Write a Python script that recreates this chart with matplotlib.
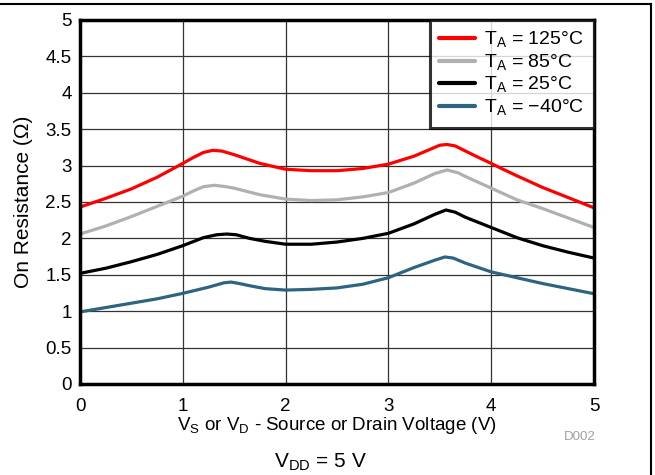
import matplotlib.pyplot as plt
from matplotlib.lines import Line2D

plt.rcParams['font.family'] = ['Liberation Sans', 'DejaVu Sans']

# voltage points (V) and on-resistance (ohm)
v_red = [0, 0.25, 0.5, 0.75, 1.0, 1.1, 1.2, 1.29, 1.38, 1.5, 1.75, 2.0, 2.25, 2.5, 2.75, 3.0, 3.25, 3.4, 3.5, 3.57, 3.65, 3.75, 3.85, 4.0, 4.1, 4.25, 4.5, 4.75, 5.0]
r_125 = [2.43, 2.55, 2.68, 2.84, 3.03, 3.11, 3.18, 3.21, 3.20, 3.15, 3.03, 2.95, 2.93, 2.93, 2.96, 3.02, 3.13, 3.22, 3.28, 3.29, 3.27, 3.20, 3.13, 3.03, 2.96, 2.86, 2.70, 2.56, 2.42]

v_gray = [0, 0.25, 0.5, 0.75, 1.0, 1.1, 1.2, 1.31, 1.42, 1.5, 1.75, 2.0, 2.25, 2.5, 2.75, 3.0, 3.25, 3.45, 3.57, 3.68, 3.75, 4.0, 4.25, 4.5, 4.75, 5.0]
r_85 = [2.06, 2.17, 2.30, 2.44, 2.58, 2.65, 2.71, 2.73, 2.71, 2.69, 2.60, 2.54, 2.52, 2.53, 2.57, 2.63, 2.76, 2.89, 2.94, 2.90, 2.85, 2.69, 2.53, 2.41, 2.28, 2.15]

v_black = [0, 0.25, 0.5, 0.75, 1.0, 1.2, 1.33, 1.43, 1.52, 1.65, 1.8, 2.0, 2.25, 2.5, 2.75, 3.0, 3.25, 3.45, 3.56, 3.65, 3.75, 4.0, 4.25, 4.5, 4.75, 5.0]
r_25 = [1.52, 1.59, 1.68, 1.78, 1.90, 2.01, 2.05, 2.06, 2.05, 2.00, 1.96, 1.92, 1.92, 1.95, 2.00, 2.07, 2.20, 2.33, 2.39, 2.36, 2.29, 2.15, 2.01, 1.90, 1.81, 1.73]

v_blue = [0, 0.25, 0.5, 0.75, 1.0, 1.25, 1.4, 1.47, 1.55, 1.65, 1.8, 2.0, 2.25, 2.5, 2.75, 3.0, 3.25, 3.45, 3.55, 3.63, 3.75, 4.0, 4.25, 4.5, 4.75, 5.0]
r_m40 = [0.99, 1.05, 1.11, 1.17, 1.245, 1.33, 1.39, 1.40, 1.38, 1.35, 1.31, 1.29, 1.30, 1.32, 1.37, 1.46, 1.60, 1.70, 1.745, 1.73, 1.66, 1.54, 1.46, 1.38, 1.31, 1.24]

labels = ['T$_\\mathregular{A}$ = 125°C', 'T$_\\mathregular{A}$ = 85°C',
          'T$_\\mathregular{A}$ = 25°C', 'T$_\\mathregular{A}$ = \u221240°C']
colors = ['#ff0000', '#b0b0b0', '#000000', '#2e6480']

fig = plt.figure(figsize=(6.55, 4.75), dpi=100)
ax = fig.add_axes([80 / 655, 1 - 384 / 475, 514 / 655, 364 / 475])

for xs, ys, c, lab in zip([v_red, v_gray, v_black, v_blue], [r_125, r_85, r_25, r_m40], colors, labels):
    ax.plot(xs, ys, color=c, lw=2.3, label=lab, solid_joinstyle='round', solid_capstyle='round')

ax.set_xlim(0, 5)
ax.set_ylim(0, 5)
ax.set_xticks([0, 1, 2, 3, 4, 5])
ax.set_yticks([0, 0.5, 1, 1.5, 2, 2.5, 3, 3.5, 4, 4.5, 5])
ax.set_yticklabels(['0', '0.5', '1', '1.5', '2', '2.5', '3', '3.5', '4', '4.5', '5'])
ax.tick_params(axis='x', length=0, labelsize=13.5, pad=10)
ax.tick_params(axis='y', length=0, labelsize=13.5, pad=6)
ax.grid(True, color='#333333', lw=0.9)
ax.set_axisbelow(True)
for s in ax.spines.values():
    s.set_linewidth(2.5)

ax.set_xlabel('V$_\\mathregular{S}$ or V$_\\mathregular{D}$ - Source or Drain Voltage (V)', fontsize=13.5)
ax.xaxis.set_label_coords(0.5, -0.085)
ax.set_ylabel('On Resistance (\u03a9)', fontsize=15)
ax.yaxis.set_label_coords(-(80 - 24) / 514, 0.5)
ax.yaxis.label.set_va('center')

leg = ax.legend(loc='upper right', fontsize=14, frameon=True, fancybox=False,
                borderaxespad=0, handlelength=1.85, labelspacing=0.12, borderpad=0.5,
                handletextpad=0.45)
leg.get_frame().set_edgecolor('black')
leg.get_frame().set_linewidth(2.2)
for h in leg.get_lines():
    h.set_linewidth(3)

fig.text(596 / 655, 1 - 437 / 475, 'D002', color='#a0a0a0', fontsize=9.5, ha='right', va='center')
fig.text(320 / 655, 1 - 462 / 475, 'V$_\\mathregular{DD}$ = 5 V', fontsize=15, ha='center', va='center')

# outer frame (top and right edges visible)
fig.add_artist(Line2D([0, 651 / 655], [1 - 4 / 475, 1 - 4 / 475], color='black', lw=1.5, transform=fig.transFigure))
fig.add_artist(Line2D([651 / 655, 651 / 655], [0, 1 - 4 / 475], color='black', lw=1.5, transform=fig.transFigure))

fig.savefig('out.png', dpi=100)
